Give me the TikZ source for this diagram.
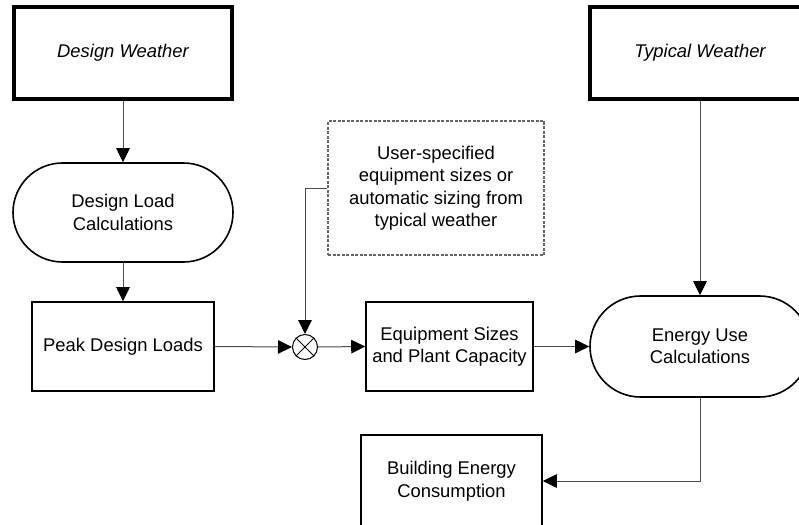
\documentclass[tikz,border=0pt]{standalone}
\usepackage{fontspec}
\setmainfont{Liberation Sans}
\usetikzlibrary{arrows.meta}

\tikzset{
  every node/.style={font=\fontsize{18.4}{22.5}\selectfont, align=center, inner sep=0pt},
  weatherbox/.style={draw=black, line width=3.2pt, font=\fontsize{18.4}{22.5}\selectfont\itshape},
  plainbox/.style={draw=black, line width=1.6pt},
  stadium/.style={draw=black, line width=1.6pt, rounded corners=49.5pt},
  notebox/.style={draw=black!60, line width=1.2pt, dash pattern=on 3pt off 1.5pt},
  mixer/.style={draw=black, line width=1pt, circle, minimum size=25pt},
  flow/.style={draw=black!70, line width=1pt, -{Triangle[length=14pt, width=13.5pt, fill=black, color=black]}},
}

\begin{document}
\begin{tikzpicture}[x=1pt, y=-1pt]
\useasboundingbox (0,0) rectangle (799,524);
\clip (0,0) rectangle (799,524);

% weather inputs
\node[weatherbox, minimum width=218pt, minimum height=92pt] (dw) at (123,53) {Design Weather};
\node[weatherbox, minimum width=220pt, minimum height=92pt] (tw) at (700,53) {Typical Weather};

% design-day chain
\node[stadium, minimum width=220pt, minimum height=99pt] (dlc) at (123,212.5) {Design Load\\Calculations};
\node[plainbox, minimum width=182pt, minimum height=89pt] (pdl) at (123,346.5) {Peak Design Loads};

% sizing junction
\node[mixer] (mx) at (305,347) {};
\draw[line width=1pt] (mx.north east) -- (mx.south west) (mx.north west) -- (mx.south east);

\node[notebox, minimum width=216pt, minimum height=134pt] (ns) at (436,188)
  {User-specified\\equipment sizes or\\automatic sizing from\\typical weather};

\node[plainbox, minimum width=167pt, minimum height=89pt] (eq) at (449.5,346.5) {Equipment Sizes\\and Plant Capacity};

% annual simulation
\node[stadium, rounded corners=50.5pt, minimum width=220pt, minimum height=101pt] (eu) at (700,346.5) {Energy Use\\Calculations};
\node[plainbox, minimum width=181pt, minimum height=92pt] (be) at (451.5,481) {Building Energy\\Consumption};

% connectors
\draw[flow] (dw.south) -- (dlc.north);
\draw[flow] (dlc.south) -- (pdl.north);
\draw[flow] (pdl.east) -- (mx.west);
\draw[flow] (mx.east) -- (eq.west);
\draw[flow] (ns.west) -| (mx.north);
\draw[flow] (eq.east) -- (eu.west);
\draw[flow] (tw.south) -- (eu.north);
\draw[flow] (eu.south) |- (be.east);
\end{tikzpicture}
\end{document}
